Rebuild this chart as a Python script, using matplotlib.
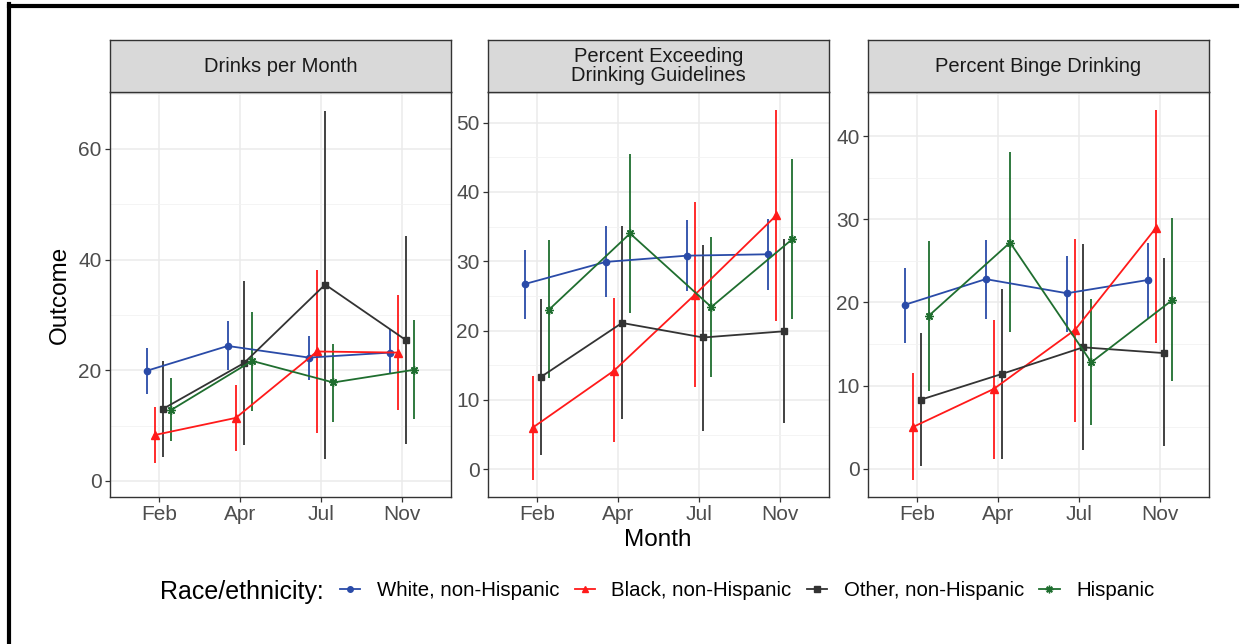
import numpy as np
import matplotlib
matplotlib.use("Agg")
from matplotlib import pyplot as plt
from matplotlib.lines import Line2D

plt.rcParams['font.family'] = ['Liberation Sans', 'DejaVu Sans']

months = ['Feb', 'Apr', 'Jul', 'Nov']
groups = ['White, non-Hispanic', 'Black, non-Hispanic', 'Other, non-Hispanic', 'Hispanic']
panel_titles = ['Drinks per Month', 'Percent Exceeding\nDrinking Guidelines', 'Percent Binge Drinking']

# drinks per month: estimate, lower, upper (per group, per month)
drinks_est = [[19.9, 24.4, 22.3, 23.2],
              [8.3, 11.4, 23.4, 23.2],
              [13.0, 21.3, 35.5, 25.4],
              [12.8, 21.7, 17.8, 20.1]]
drinks_lo = [[15.7, 20.1, 18.2, 19.3],
             [3.3, 5.5, 8.6, 12.8],
             [4.3, 6.5, 3.9, 6.7],
             [7.2, 12.7, 10.7, 11.2]]
drinks_hi = [[24.1, 28.9, 26.2, 27.4],
             [13.4, 17.3, 38.1, 33.6],
             [21.7, 36.1, 66.8, 44.2],
             [18.6, 30.5, 24.7, 29.1]]

# percent exceeding drinking guidelines
exceed_est = [[26.7, 29.9, 30.8, 31.0],
              [6.0, 14.2, 25.2, 36.6],
              [13.3, 21.1, 19.0, 19.9],
              [23.0, 34.0, 23.4, 33.2]]
exceed_lo = [[21.7, 24.8, 25.7, 25.9],
             [-1.6, 3.9, 11.9, 21.4],
             [2.0, 7.3, 5.5, 6.7],
             [13.1, 22.6, 13.3, 21.7]]
exceed_hi = [[31.6, 35.1, 35.9, 36.1],
             [13.5, 24.7, 38.5, 51.8],
             [24.6, 35.1, 32.4, 33.2],
             [33.0, 45.4, 33.5, 44.7]]

# percent binge drinking
binge_est = [[19.7, 22.8, 21.1, 22.7],
             [5.0, 9.6, 16.7, 29.0],
             [8.3, 11.4, 14.6, 13.9],
             [18.4, 27.2, 12.8, 20.3]]
binge_lo = [[15.1, 18.0, 16.5, 18.0],
            [-1.4, 1.2, 5.6, 15.1],
            [0.3, 1.2, 2.2, 2.7],
            [9.3, 16.4, 5.2, 10.5]]
binge_hi = [[24.1, 27.5, 25.6, 27.2],
            [11.5, 17.9, 27.6, 43.1],
            [16.3, 21.6, 27.0, 25.3],
            [27.4, 38.1, 20.4, 30.1]]

colors = ['#2A4BA8', '#FF1A1A', '#333333', '#1F6E2F']
markers = ['o', '^', 's', (8, 2, 0)]
msizes = [4.5, 5.5, 5, 6]
offsets = [-0.15, -0.05, 0.05, 0.15]

panels = [(drinks_est, drinks_lo, drinks_hi, (-2.9, 70.3), [0, 20, 40, 60], [10, 30, 50, 70]),
          (exceed_est, exceed_lo, exceed_hi, (-4.0, 54.4), [0, 10, 20, 30, 40, 50], [5, 15, 25, 35, 45]),
          (binge_est, binge_lo, binge_hi, (-3.4, 45.3), [0, 10, 20, 30, 40], [5, 15, 25, 35, 45])]

W, H = 1243, 644
fig = plt.figure(figsize=(W / 100, H / 100), dpi=100)

lefts = [110, 488, 868]
pw = 341
top, bot, strip_top = 92, 497, 40

x = np.arange(1, len(months) + 1)
for p, (est, lo, hi, ylim, majors, minors) in enumerate(panels):
    ax = fig.add_axes([lefts[p] / W, 1 - bot / H, pw / W, (bot - top) / H])
    ax.set_xlim(0.4, 4.6)
    ax.set_ylim(*ylim)
    ax.set_xticks(x)
    ax.set_xticklabels(months)
    ax.set_yticks(majors)
    ax.set_yticks(minors, minor=True)
    ax.grid(True, which='major', color='#EBEBEB', lw=1.1, zorder=0)
    ax.grid(True, which='minor', axis='y', color='#F2F2F2', lw=0.6, zorder=0)
    ax.set_axisbelow(True)
    for s in ax.spines.values():
        s.set_color('#333333')
        s.set_linewidth(1.0)
    ax.tick_params(which='major', length=3.5, width=0.9, color='#333333',
                   labelsize=15, labelcolor='#4D4D4D', pad=2.5)
    ax.tick_params(which='minor', length=0)
    for g in range(len(groups)):
        xs = x + offsets[g]
        e = np.array(est[g])
        l = np.array(lo[g])
        h = np.array(hi[g])
        ax.vlines(xs, l, h, color=colors[g], lw=1.3, zorder=3)
        ax.plot(xs, e, color=colors[g], lw=1.3, marker=markers[g],
                ms=msizes[g], mew=1.0, zorder=4)
    # strip
    sax = fig.add_axes([lefts[p] / W, 1 - top / H, pw / W, (top - strip_top) / H])
    sax.set_facecolor('#D9D9D9')
    sax.set_xticks([])
    sax.set_yticks([])
    for s in sax.spines.values():
        s.set_color('#333333')
        s.set_linewidth(1.0)
    sax.text(0.5, 0.5, panel_titles[p], ha='center', va='center', fontsize=14.5,
             color='#1A1A1A', transform=sax.transAxes, linespacing=1.0)
    if p == 0:
        ax.set_ylabel('Outcome', fontsize=17.5, labelpad=5)

fig.text(658 / W, 1 - 540 / H, 'Month', ha='center', va='center', fontsize=17.5)

# legend
fig.text(160 / W, 1 - 592 / H, 'Race/ethnicity:', ha='left', va='center', fontsize=18)
handles = [Line2D([0], [0], color=colors[g], lw=1.3, marker=markers[g], ms=msizes[g] - 0.5)
           for g in range(len(groups))]
fig.legend(handles, groups, loc='center left', bbox_to_anchor=(340 / W, 1 - 591 / H),
           ncol=4, frameon=False, fontsize=14.7, handlelength=1.0, handletextpad=0.8,
           columnspacing=0.75, borderaxespad=0, borderpad=0)

# black frame lines on top and left edges
fig.add_artist(Line2D([9 / W, 1237 / W], [1 - 5.5 / H, 1 - 5.5 / H], color='black', lw=3))
fig.add_artist(Line2D([9 / W, 9 / W], [0, 1 - 4 / H], color='black', lw=3))

fig.savefig('out.png', dpi=100)
